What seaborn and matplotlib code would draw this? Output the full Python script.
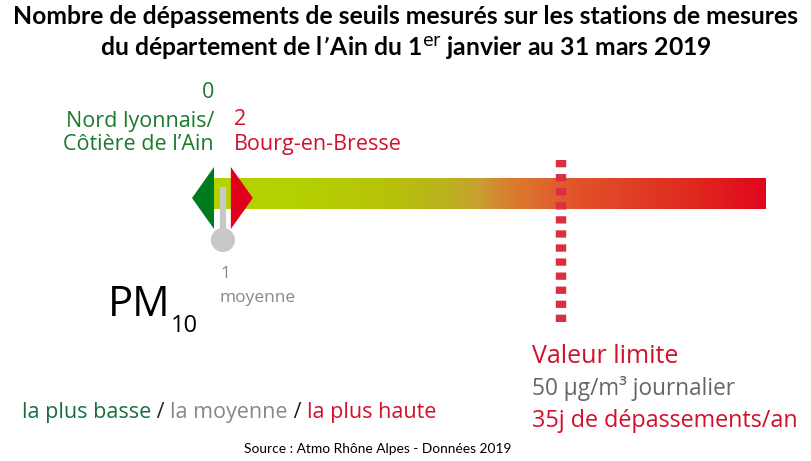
import numpy as np
import matplotlib
matplotlib.use("Agg")
import matplotlib.pyplot as plt
import seaborn as sns
from matplotlib.colors import LinearSegmentedColormap
from matplotlib.patches import Polygon

# data
polluant = "PM"
polluant_indice = "10"
val_min = 0
val_moy = 1
val_max = 2
station_min = "Nord lyonnais/\nCôtière de l\u2019Ain"
station_max = "Bourg-en-Bresse"
valeur_limite = 35
echelle_max = 55.6

grad_pos = [0.0, 0.16, 0.30, 0.43, 0.48, 0.53, 0.63, 0.74, 0.88, 1.0]
grad_col = ["#b4d300", "#b4d000", "#b6c408", "#bcb020", "#c8a030", "#d88030",
            "#e25a2c", "#e04226", "#e0261e", "#e0061c"]

titre = ("Nombre de dépassements de seuils mesurés sur les stations de mesures\n"
         "du département de l\u2019Ain du 1$^{\\mathrm{er}}$ janvier au 31 mars 2019")

sns.set_theme(style="white")
plt.rcParams['font.family'] = ['Open Sans', 'DejaVu Sans']

VERT = "#1c7a2c"
ROUGE = "#d2102c"
GRIS = "#888888"

fig = plt.figure(figsize=(8.12, 4.61), dpi=100)
ax = fig.add_axes([0, 0, 1, 1])
px = 347 / valeur_limite          # pixels per unit
x0 = -214 / px
ax.set_xlim(x0, x0 + 812 / px)
ax.set_ylim(461, 0)
ax.axis("off")

# gradient bar
cmap = LinearSegmentedColormap.from_list("seuil", list(zip(grad_pos, grad_col)))
grad = np.linspace(0, 1, 512).reshape(1, -1)
ax.imshow(grad, extent=[val_min, echelle_max, 209, 178], aspect="auto", cmap=cmap, zorder=1)

# valeur limite (dashed)
ax.vlines(valeur_limite, 160, 326, colors="#d83040", linewidth=7.5,
          linestyles=(0, (0.7, 0.65)), zorder=3)

# min / max arrows
w = 22 / px
ax.add_patch(Polygon([[val_min, 167], [val_min, 229], [val_min - w, 198]],
                     closed=True, color="#007a1e", zorder=4, lw=0))
ax.add_patch(Polygon([[val_max - 0.3, 167], [val_max - 0.3, 229], [val_max - 0.3 + w, 198]],
                     closed=True, color="#e0001c", zorder=4, lw=0))

# mean marker
ax.vlines(val_moy - 0.1, 187, 240, colors="#c8c8c8", linewidth=4.5, zorder=5)
sns.scatterplot(x=[val_moy - 0.1], y=[240], s=300, color="#c8c8c8", edgecolor="none",
                ax=ax, zorder=5, legend=False)
ax.set_xlim(x0, x0 + 812 / px)
ax.set_ylim(461, 0)
ax.axis("off")

# labels near arrows
ax.text(val_min, 98, str(val_min), color=VERT, fontsize=15.5, ha="right", va="baseline")
ax.text(val_min, 150, station_min, color=VERT, fontsize=15.5, ha="right", va="baseline",
        linespacing=1.15)
ax.text(val_max, 125, str(val_max), color=ROUGE, fontsize=15.5, ha="left", va="baseline")
ax.text(val_max, 150, station_max, color=ROUGE, fontsize=15.5, ha="left", va="baseline")
ax.text(val_moy - 0.4, 278, str(val_moy), color=GRIS, fontsize=12.5, ha="left", va="baseline")
ax.text(val_moy - 0.4, 302, "moyenne", color=GRIS, fontsize=12.5, ha="left", va="baseline")

# polluant
fig.text(108 / 812, 1 - 316 / 461, polluant, fontsize=30, color="black", va="baseline")
fig.text(171 / 812, 1 - 332 / 461, polluant_indice, fontsize=17, color="black", va="baseline")

# valeur limite text
ax.text(valeur_limite - 2.95, 363, "Valeur limite", color=ROUGE, fontsize=18, va="baseline")
ax.text(valeur_limite - 2.95, 395, "50 µg/m³ journalier", color="#666666", fontsize=16.3,
        va="baseline")
ax.text(valeur_limite - 2.95, 427, "35j de dépassements/an", color=ROUGE, fontsize=16.8,
        va="baseline")

# legend line
leg = [("la plus basse", "#1a6e3e"), (" / ", "#222222"), ("la moyenne", GRIS),
       (" / ", "#222222"), ("la plus haute", ROUGE)]
fig.canvas.draw()
r = fig.canvas.get_renderer()
xpos = 22
for txt, col in leg:
    t = fig.text(xpos / 812, 1 - 418 / 461, txt, color=col, fontsize=15.5, va="baseline")
    bb = t.get_window_extent(r)
    xpos += bb.width

fig.text(378 / 812, 1 - 453 / 461, "Source : Atmo Rhône Alpes - Données 2019",
         fontsize=9.9, color="black", ha="center", va="baseline",
         family=['Lato', 'DejaVu Sans'])

# title
fig.text(406 / 812, 1 - 57 / 461, titre, fontsize=17.8, fontweight="bold", ha="center",
         va="baseline", linespacing=1.3, color="black",
         family=['Lato', 'DejaVu Sans'])

fig.savefig("out.png", dpi=100)
